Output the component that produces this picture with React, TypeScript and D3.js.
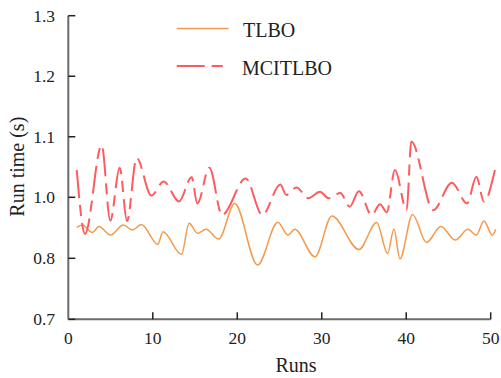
import React from "react";
import * as d3 from "d3";

// ---- data ----
const tlboRuns = [1, 1.66, 2.85, 3.63, 5.0, 6.5, 7.6, 8.64, 10.6, 11.2, 13.4, 14.3, 15.3, 16.3, 17.8, 19.7, 22.4, 24.8, 26.0, 26.8, 29.2, 31.2, 34.4, 36.5, 37.8, 38.55, 39.25, 40.75, 42.4, 44.1, 45.8, 47.3, 48.3, 49.2, 50.2, 50.6];
const tlboValues = [0.901, 0.909, 0.885, 0.904, 0.876, 0.909, 0.893, 0.911, 0.846, 0.887, 0.813, 0.915, 0.882, 0.895, 0.863, 0.98, 0.789, 0.918, 0.876, 0.895, 0.805, 0.939, 0.829, 0.917, 0.816, 0.896, 0.799, 0.944, 0.852, 0.904, 0.86, 0.895, 0.876, 0.922, 0.876, 0.895];

const mcRuns = [1, 1.98, 3.95, 4.97, 6.08, 6.95, 8.09, 9.83, 11.3, 13.1, 14.6, 15.27, 16.7, 18.2, 21.0, 22.96, 25.1, 25.8, 27.0, 28.4, 29.8, 30.8, 32.2, 33.3, 34.4, 35.9, 36.9, 37.7, 38.66, 40.05, 40.6, 43.2, 45.4, 47.2, 48.3, 49.2, 50.5];
const mcValues = [1.045, 0.88, 1.086, 0.923, 1.049, 0.922, 1.065, 1.003, 1.026, 0.986, 1.033, 0.98, 1.049, 0.942, 1.031, 0.942, 1.021, 1.004, 1.016, 0.997, 1.009, 0.997, 1.007, 0.969, 1.01, 0.942, 0.977, 0.951, 1.045, 0.958, 1.092, 0.958, 1.024, 0.98, 1.034, 0.986, 1.045];

const xTicks = [0, 10, 20, 30, 40, 50];
const yTicks = [0.7, 0.8, 1.0, 1.1, 1.2, 1.3];
const yTickLabels = ["0.7", "0.8", "1.0", "1.1", "1.2", "1.3"];

const seriesNames = ["TLBO", "MCITLBO"];

const W = 501;
const H = 378;

export default function App() {
  const x = d3.scaleLinear().domain([0, 50]).range([68.3, 490.7]);
  const y = d3.scaleLinear().domain([0.7, 0.8, 1.0, 1.3]).range([319.3, 258.3, 197.3, 15.7]);

  const line = d3
    .line<[number, number]>()
    .x((d) => x(d[0]))
    .y((d) => y(d[1]))
    .curve(d3.curveMonotoneX);

  const tlbo = tlboRuns.map((r, i) => [r, tlboValues[i]] as [number, number]);
  const mc = mcRuns.map((r, i) => [r, mcValues[i]] as [number, number]);

  const orange = "#F39A4C";
  const red = "#FF5A5E";
  const axisColor = "#6b6b6b";
  const tf: React.CSSProperties = {
    fontFamily: '"Liberation Serif", "DejaVu Serif", "Times New Roman", Times, serif',
  };
  const dash = "28,7,11,7";

  const x0 = x(0);
  const y0 = y(0.7);

  return (
    <svg
      width={W}
      height={H}
      style={{ position: "absolute", left: 0, top: 0, background: "#fff" }}
    >
      <rect x={0} y={0} width={W} height={H} fill="#fff" />
      {/* series */}
      <path d={line(tlbo) || ""} fill="none" stroke={orange} strokeWidth={1.5} />
      <path d={line(mc) || ""} fill="none" stroke={red} strokeWidth={2} strokeDasharray={dash} />

      {/* axes */}
      <line x1={x0} y1={y(1.3)} x2={x0} y2={y0} stroke={axisColor} strokeWidth={2} />
      <line x1={x0} y1={y0} x2={x(50)} y2={y0} stroke={axisColor} strokeWidth={2} />
      {yTicks.map((t, i) => (
        <g key={"y" + t}>
          <line x1={x0} x2={x0 + 7} y1={y(t)} y2={y(t)} stroke="#222" strokeWidth={1.5} />
          <text x={55} y={y(t) + 6} textAnchor="end" fontSize={17.5} fill="#222" style={tf}>
            {yTickLabels[i]}
          </text>
        </g>
      ))}
      {xTicks.map((t) => (
        <g key={"x" + t}>
          {t > 0 && <line x1={x(t)} x2={x(t)} y1={y0} y2={y0 - 7} stroke="#222" strokeWidth={1.5} />}
          <text x={x(t)} y={343.5} textAnchor="middle" fontSize={17.5} fill="#222" style={tf}>
            {t}
          </text>
        </g>
      ))}

      {/* axis titles */}
      <text x={296} y={371.5} textAnchor="middle" fontSize={20} fill="#222" style={tf}>
        Runs
      </text>
      <text
        transform={`translate(23.5,166.7) rotate(-90)`}
        textAnchor="middle"
        fontSize={20}
        fill="#222"
        style={tf}
      >
        Run time (s)
      </text>

      {/* legend */}
      <line x1={176.7} x2={228.5} y1={28.5} y2={28.5} stroke={orange} strokeWidth={1.5} />
      <text x={243} y={36.7} fontSize={20} fill="#222" style={tf}>
        {seriesNames[0]}
      </text>
      <line x1={176.7} x2={228.5} y1={66} y2={66} stroke={red} strokeWidth={2} strokeDasharray={dash} />
      <text x={242} y={75} fontSize={20} fill="#222" style={tf}>
        {seriesNames[1]}
      </text>
    </svg>
  );
}
